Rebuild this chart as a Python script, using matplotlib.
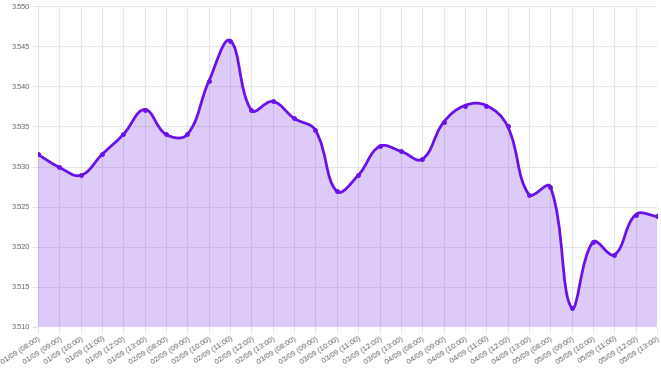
import numpy as np
import matplotlib.pyplot as plt
from matplotlib.path import Path
from matplotlib.patches import PathPatch

plt.rcParams['font.family'] = ['Liberation Sans', 'DejaVu Sans']

days = ['01/09', '02/09', '03/09', '04/09', '05/09']
hours = ['08:00', '09:00', '10:00', '11:00', '12:00', '13:00']
labels = [f'{d} ({h})' for d in days for h in hours]

rates = [3.5315, 3.5299, 3.5289, 3.5315, 3.5340, 3.5371,
         3.5340, 3.5340, 3.5406, 3.5457, 3.5370, 3.5381,
         3.5360, 3.5345, 3.5269, 3.5289, 3.5325, 3.5319,
         3.5309, 3.5355, 3.5376, 3.5376, 3.5350, 3.5265,
         3.5275, 3.5124, 3.5206, 3.5190, 3.5240, 3.5238]

ymin, ymax = 3.510, 3.550
line_color = '#6a11e8'
grid_color = '#e6e6e6'

# chart.js style bezier (tension 0.4), weights computed in pixel units
def spline(xs, ys, sx, sy, t=0.4):
    n = len(xs)
    cps = []
    for i in range(n):
        p = (xs[max(i - 1, 0)], ys[max(i - 1, 0)])
        c = (xs[i], ys[i])
        nx = (xs[min(i + 1, n - 1)], ys[min(i + 1, n - 1)])
        d01 = np.hypot((c[0] - p[0]) * sx, (c[1] - p[1]) * sy)
        d12 = np.hypot((nx[0] - c[0]) * sx, (nx[1] - c[1]) * sy)
        tot = d01 + d12 if d01 + d12 > 0 else 1
        fa, fb = t * d01 / tot, t * d12 / tot
        prev_cp = (c[0] - fa * (nx[0] - p[0]), c[1] - fa * (nx[1] - p[1]))
        next_cp = (c[0] + fb * (nx[0] - p[0]), c[1] + fb * (nx[1] - p[1]))
        cps.append((prev_cp, next_cp))
    verts = [(xs[0], ys[0])]
    codes = [Path.MOVETO]
    for i in range(1, n):
        verts += [cps[i - 1][1], cps[i][0], (xs[i], ys[i])]
        codes += [Path.CURVE4] * 3
    return verts, codes

x = np.arange(len(rates))

fig = plt.figure(figsize=(6.61, 3.76), dpi=100)
ax = fig.add_axes([38 / 661, 49 / 376, 619 / 661, 321 / 376])

verts, codes = spline(x, rates, 21.34, 8025)
fill_verts = verts + [(x[-1], ymin), (x[0], ymin), verts[0]]
fill_codes = codes + [Path.LINETO, Path.LINETO, Path.CLOSEPOLY]
ax.add_patch(PathPatch(Path(fill_verts, fill_codes), facecolor=line_color,
                       alpha=0.22, edgecolor='none', zorder=2))
ax.add_patch(PathPatch(Path(verts, codes), facecolor='none',
                       edgecolor=line_color, lw=2, zorder=3))
ax.plot(x, rates, 'o', color=line_color, ms=2.5, zorder=4)

ax.set_xlim(x[0], x[-1])
ax.set_ylim(ymin, ymax)
ax.set_xticks(x)
ax.set_xticklabels(labels, rotation=33, ha='right', va='top',
                   rotation_mode='anchor', fontsize=5.5, color='#666666')
yt = np.arange(3.510, 3.5501, 0.005)
ax.set_yticks(yt)
ax.set_yticklabels([f'{v:.3f}' for v in yt], fontsize=5.3, color='#666666')
ax.grid(True, color=grid_color, lw=0.8, zorder=1)
ax.set_axisbelow(True)
ax.tick_params(length=4, width=0.8, color=grid_color, pad=2)
for s in ax.spines.values():
    s.set_visible(False)

fig.savefig('out.png', dpi=100)
